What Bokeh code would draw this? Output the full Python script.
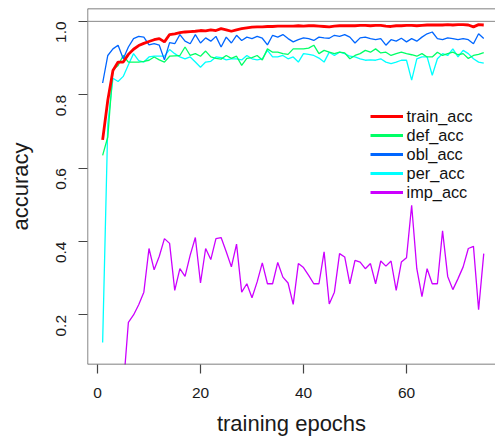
import math
from bokeh.plotting import figure
from bokeh.models import Range1d, Span, Legend, LegendItem, FixedTicker, CustomJSTickFormatter
from bokeh.embed import file_html
from bokeh.resources import INLINE

epochs = list(range(1, 76))

train_acc = [0.677, 0.785, 0.866, 0.889, 0.889, 0.910, 0.924, 0.934, 0.940, 0.945,
             0.950, 0.953, 0.944, 0.964, 0.966, 0.969, 0.971, 0.972, 0.973, 0.975,
             0.974, 0.977, 0.975, 0.980, 0.977, 0.973, 0.977, 0.980, 0.982, 0.984,
             0.985, 0.985, 0.986, 0.986, 0.987, 0.987, 0.987, 0.987, 0.988, 0.987,
             0.988, 0.988, 0.987, 0.986, 0.985, 0.987, 0.988, 0.988, 0.988, 0.988,
             0.989, 0.989, 0.988, 0.989, 0.989, 0.987, 0.986, 0.988, 0.988, 0.989,
             0.989, 0.988, 0.989, 0.990, 0.990, 0.990, 0.990, 0.991, 0.990, 0.991,
             0.991, 0.990, 0.985, 0.991, 0.990]

def_acc = [0.635, 0.685, 0.868, 0.880, 0.907, 0.889, 0.889, 0.889, 0.891, 0.894,
           0.903, 0.895, 0.889, 0.905, 0.906, 0.907, 0.930, 0.907, 0.912, 0.905,
           0.919, 0.903, 0.899, 0.897, 0.907, 0.899, 0.905, 0.880, 0.899, 0.901,
           0.907, 0.895, 0.925, 0.916, 0.916, 0.912, 0.910, 0.925, 0.925, 0.925,
           0.927, 0.935, 0.912, 0.921, 0.916, 0.912, 0.916, 0.914, 0.898, 0.907,
           0.912, 0.921, 0.916, 0.925, 0.914, 0.916, 0.907, 0.912, 0.916, 0.912,
           0.909, 0.905, 0.912, 0.903, 0.903, 0.916, 0.907, 0.912, 0.916, 0.909,
           0.912, 0.899, 0.907, 0.910, 0.915]

obl_acc = [0.832, 0.907, 0.925, 0.935, 0.898, 0.930, 0.953, 0.959, 0.957, 0.936,
           0.939, 0.935, 0.895, 0.942, 0.939, 0.964, 0.946, 0.939, 0.964, 0.941,
           0.955, 0.946, 0.959, 0.930, 0.957, 0.941, 0.962, 0.948, 0.957, 0.953,
           0.959, 0.954, 0.936, 0.962, 0.957, 0.964, 0.953, 0.944, 0.950, 0.955,
           0.953, 0.948, 0.957, 0.955, 0.954, 0.962, 0.959, 0.964, 0.957, 0.941,
           0.955, 0.957, 0.953, 0.950, 0.953, 0.935, 0.950, 0.946, 0.954, 0.944,
           0.953, 0.946, 0.957, 0.966, 0.971, 0.953, 0.950, 0.955, 0.953, 0.950,
           0.953, 0.950, 0.939, 0.966, 0.953]

per_acc = [0.125, 0.720, 0.845, 0.836, 0.850, 0.882, 0.912, 0.893, 0.889, 0.903,
           0.905, 0.905, 0.905, 0.923, 0.912, 0.903, 0.898, 0.903, 0.889, 0.875,
           0.889, 0.891, 0.903, 0.901, 0.895, 0.898, 0.898, 0.895, 0.907, 0.898,
           0.895, 0.898, 0.921, 0.903, 0.903, 0.907, 0.898, 0.903, 0.889, 0.912,
           0.910, 0.907, 0.900, 0.889, 0.916, 0.907, 0.916, 0.912, 0.905, 0.903,
           0.898, 0.894, 0.895, 0.894, 0.898, 0.889, 0.885, 0.889, 0.894, 0.894,
           0.840, 0.898, 0.903, 0.903, 0.853, 0.898, 0.912, 0.907, 0.925, 0.903,
           0.921, 0.912, 0.898, 0.889, 0.886]

imp_acc = [0.0, 0.0, 0.0, 0.0, 0.0, 0.180, 0.200, 0.228, 0.262, 0.381,
           0.323, 0.360, 0.408, 0.395, 0.267, 0.326, 0.305, 0.363, 0.411, 0.287,
           0.381, 0.351, 0.408, 0.411, 0.372, 0.331, 0.393, 0.262, 0.285, 0.247,
           0.290, 0.342, 0.285, 0.285, 0.343, 0.303, 0.287, 0.229, 0.340, 0.329,
           0.308, 0.285, 0.285, 0.372, 0.230, 0.262, 0.367, 0.358, 0.285, 0.349,
           0.344, 0.326, 0.340, 0.285, 0.347, 0.333, 0.347, 0.267, 0.344, 0.356,
           0.499, 0.326, 0.250, 0.326, 0.285, 0.285, 0.429, 0.305, 0.269, 0.299,
           0.331, 0.381, 0.387, 0.214, 0.367]

series_names = ["train_acc", "def_acc", "obl_acc", "per_acc", "imp_acc"]
series_colors = ["#FF0000", "#00FF66", "#0066FF", "#00FFFF", "#CC00FF"]

x_ticks = [0, 20, 40, 60]
y_ticks = [0.2, 0.4, 0.6, 0.8, 1.0]
ref_level = 1.0

X_MIN, X_MAX = -1.94, 77.28
Y_MIN, Y_MAX = 0.065, 1.035

FONT = "Liberation Sans"

p = figure(width=495, height=440, output_backend="svg", toolbar_location=None,
           x_range=Range1d(X_MIN, X_MAX), y_range=Range1d(Y_MIN, Y_MAX),
           min_border_left=87, min_border_right=0, min_border_top=8, min_border_bottom=76)
p.outline_line_color = None
p.grid.visible = False
p.background_fill_color = "white"

# axes
for ax in (p.xaxis[0], p.yaxis[0]):
    ax.axis_line_color = None
    ax.major_tick_line_color = "#444444"
    ax.major_tick_line_width = 1.2
    ax.major_tick_out = 9
    ax.major_tick_in = 0
    ax.minor_tick_line_color = None
    ax.major_label_text_font = FONT
    ax.major_label_text_font_size = "15.5px"
    ax.major_label_text_color = "#1a1a1a"
    ax.axis_label_text_font = FONT
    ax.axis_label_text_font_size = "22px"
    ax.axis_label_text_font_style = "normal"
    ax.axis_label_text_color = "#1a1a1a"

p.xaxis.ticker = FixedTicker(ticks=x_ticks)
p.yaxis.ticker = FixedTicker(ticks=y_ticks)
p.yaxis.formatter = CustomJSTickFormatter(code="return tick.toFixed(1);")
p.xaxis.axis_label = "training epochs"
p.yaxis.axis_label = "accuracy"
p.xaxis.major_label_standoff = 14
p.xaxis.axis_label_standoff = 10
p.yaxis.major_label_orientation = math.pi / 2
p.yaxis.major_label_standoff = 17
p.yaxis.axis_label_standoff = 16

# box (left, top, bottom; right edge lies outside the picture)
box_kw = dict(line_color="#555555", line_width=1.4)
p.add_layout(Span(location=Y_MAX, dimension="width", **box_kw))
p.add_layout(Span(location=Y_MIN, dimension="width", **box_kw))
p.add_layout(Span(location=X_MIN, dimension="height", **box_kw))

# reference line at 1.0
p.add_layout(Span(location=ref_level, dimension="width", line_color="#888888", line_width=1))

data = [train_acc, def_acc, obl_acc, per_acc, imp_acc]
widths = [2.8, 1.3, 1.3, 1.3, 1.3]
order = [4, 3, 1, 2, 0]
for i in order:
    p.line(epochs, data[i], line_color=series_colors[i], line_width=widths[i])

# legend keys: thicker lines than the plotted series (renderers with no visible points)
items = []
for name, col in zip(series_names, series_colors):
    r = p.line([math.nan], [math.nan], line_color=col, line_width=3)
    items.append(LegendItem(label=name, renderers=[r]))

legend = Legend(items=items, location=(282.6, 162.5), border_line_color=None,
                background_fill_alpha=0, padding=0, margin=0, spacing=0,
                glyph_width=33, glyph_height=18, label_height=18, label_standoff=4,
                label_text_font=FONT, label_text_font_size="16.3px",
                label_text_color="#111111")
p.add_layout(legend)

open("out.html", "w").write(file_html(p, INLINE))
